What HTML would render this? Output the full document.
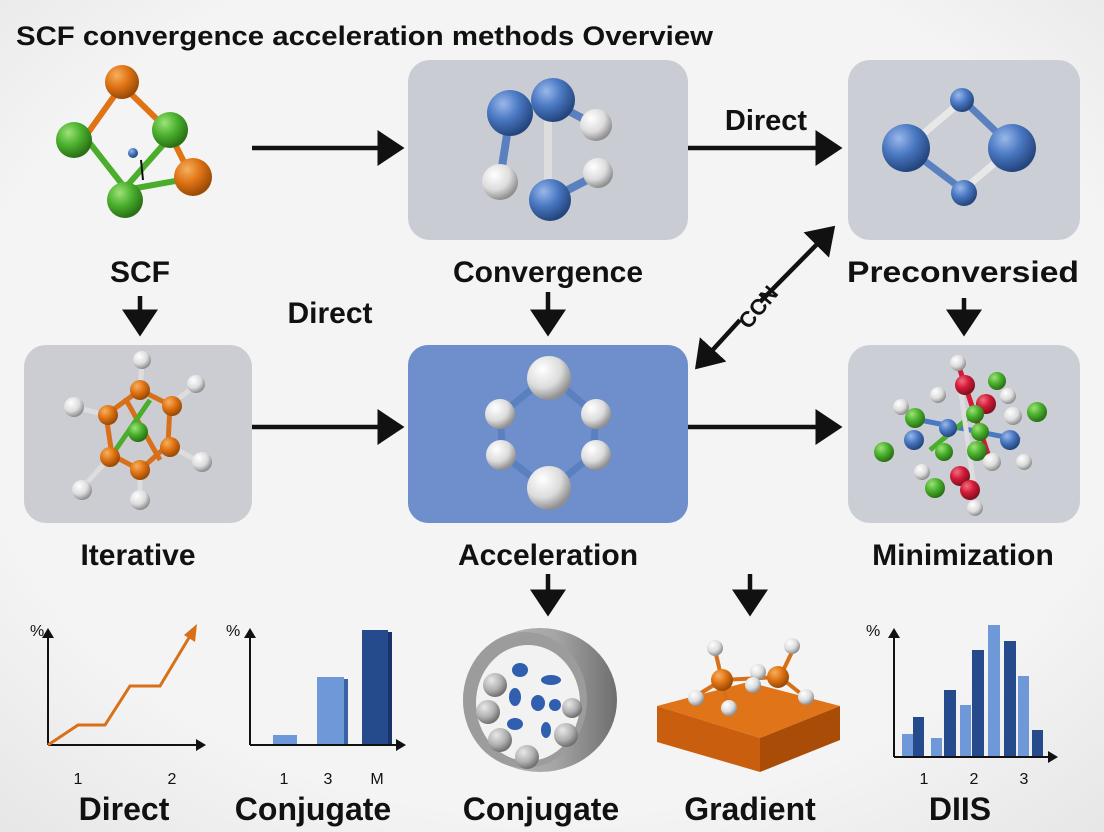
<!DOCTYPE html>
<html><head><meta charset="utf-8"><style>
html,body{margin:0;padding:0;background:#f3f3f3;}
svg{display:block}
text{font-family:"Liberation Sans",sans-serif;font-weight:bold;fill:#111}
text.n{font-weight:normal}
</style></head><body>
<svg width="1104" height="832" viewBox="0 0 1104 832" xmlns="http://www.w3.org/2000/svg">
<defs>
<radialGradient id="bg" cx="50%" cy="45%" r="75%"><stop offset="0.7" stop-color="#f4f4f4"/><stop offset="1" stop-color="#e6e6e6"/></radialGradient>
<radialGradient id="o" cx="35%" cy="30%" r="70%"><stop offset="0" stop-color="#f6b060"/><stop offset="0.5" stop-color="#e07415"/><stop offset="1" stop-color="#9a4a05"/></radialGradient>
<radialGradient id="g" cx="35%" cy="30%" r="70%"><stop offset="0" stop-color="#9ee27a"/><stop offset="0.5" stop-color="#4bb22e"/><stop offset="1" stop-color="#2a7016"/></radialGradient>
<radialGradient id="b" cx="35%" cy="30%" r="70%"><stop offset="0" stop-color="#9ab8ea"/><stop offset="0.5" stop-color="#4a78c2"/><stop offset="1" stop-color="#24467e"/></radialGradient>
<radialGradient id="w" cx="35%" cy="30%" r="70%"><stop offset="0" stop-color="#ffffff"/><stop offset="0.6" stop-color="#dcdcdc"/><stop offset="1" stop-color="#8f8f8f"/></radialGradient>
<radialGradient id="r" cx="35%" cy="30%" r="70%"><stop offset="0" stop-color="#f07080"/><stop offset="0.5" stop-color="#d21a38"/><stop offset="1" stop-color="#80101f"/></radialGradient>
<radialGradient id="gr" cx="35%" cy="30%" r="70%"><stop offset="0" stop-color="#e8e8e8"/><stop offset="0.6" stop-color="#b0b0b0"/><stop offset="1" stop-color="#707070"/></radialGradient>
<linearGradient id="cyl" x1="0" x2="1"><stop offset="0" stop-color="#c0c0c0"/><stop offset="0.6" stop-color="#a5a5a5"/><stop offset="1" stop-color="#6e6e6e"/></linearGradient>
<marker id="ah" markerWidth="8" markerHeight="8" refX="5" refY="4" orient="auto" markerUnits="strokeWidth"><path d="M0,0 L6,4 L0,8 Z" fill="#111"/></marker>
<marker id="ahs" markerWidth="6" markerHeight="6" refX="4" refY="3" orient="auto" markerUnits="strokeWidth"><path d="M0,0 L5,3 L0,6 Z" fill="#111"/></marker>
</defs>
<rect width="1104" height="832" fill="url(#bg)"/>

<text x="16" y="45" font-size="27" textLength="697" lengthAdjust="spacingAndGlyphs">SCF convergence  acceleration methods Overview</text>

<rect x="408" y="60" width="280" height="180" rx="22" fill="#c9ccd3"/>
<rect x="848" y="60" width="232" height="180" rx="22" fill="#cbced5"/>
<rect x="24" y="345" width="228" height="178" rx="22" fill="#cbcdd2"/>
<rect x="408" y="345" width="280" height="178" rx="20" fill="#6e8fcb"/>
<rect x="848" y="345" width="232" height="178" rx="22" fill="#cbced5"/>

<g stroke="#111" stroke-width="4.5" fill="none">
<line x1="252" y1="148" x2="400" y2="148" marker-end="url(#ah)"/>
<line x1="688" y1="148" x2="838" y2="148" marker-end="url(#ah)"/>
<line x1="252" y1="427" x2="400" y2="427" marker-end="url(#ah)"/>
<line x1="688" y1="427" x2="838" y2="427" marker-end="url(#ah)"/>
<line x1="140" y1="296" x2="140" y2="332" marker-end="url(#ah)"/>
<line x1="548" y1="292" x2="548" y2="332" marker-end="url(#ah)"/>
<line x1="964" y1="298" x2="964" y2="332" marker-end="url(#ah)"/>
<line x1="548" y1="574" x2="548" y2="612" marker-end="url(#ah)"/>
<line x1="750" y1="574" x2="750" y2="612" marker-end="url(#ah)"/>
<line x1="760" y1="302" x2="832" y2="229" marker-end="url(#ah)"/>
<line x1="740" y1="320" x2="698" y2="366" marker-end="url(#ah)"/>
</g>
<text x="766" y="130" font-size="29" text-anchor="middle">Direct</text>
<text x="0" y="0" font-size="22" text-anchor="middle" transform="translate(764,312) rotate(-50)">CCN</text>

<g font-size="30" text-anchor="middle">
<text x="140" y="282">SCF</text>
<text x="548" y="282">Convergence</text>
<text x="963" y="282" textLength="232" lengthAdjust="spacingAndGlyphs">Preconversied</text>
<text x="330" y="323">Direct</text>
<text x="138" y="565">Iterative</text>
<text x="548" y="565">Acceleration</text>
<text x="963" y="565">Minimization</text>
</g>
<g font-size="32" text-anchor="middle">
<text x="124" y="820">Direct</text>
<text x="313" y="820">Conjugate</text>
<text x="541" y="820">Conjugate</text>
<text x="750" y="820">Gradient</text>
<text x="960" y="820">DIIS</text>
</g>

<!-- SCF molecule -->
<g stroke-width="6" stroke-linecap="round">
<line x1="125" y1="188" x2="178" y2="128" stroke="#4aae2c"/>
<line x1="125" y1="188" x2="85" y2="137" stroke="#4aae2c"/>
<line x1="85" y1="137" x2="122" y2="85" stroke="#e07415"/>
<line x1="122" y1="85" x2="168" y2="130" stroke="#e07415"/>
<line x1="168" y1="130" x2="192" y2="178" stroke="#e07415"/>
<line x1="192" y1="178" x2="125" y2="190" stroke="#4aae2c"/>
</g>
<circle cx="122" cy="82" r="17" fill="url(#o)"/>
<circle cx="74" cy="140" r="18" fill="url(#g)"/>
<circle cx="170" cy="130" r="18" fill="url(#g)"/>
<circle cx="193" cy="177" r="19" fill="url(#o)"/>
<circle cx="125" cy="200" r="18" fill="url(#g)"/>
<circle cx="133" cy="153" r="5" fill="url(#b)"/>
<line x1="141" y1="160" x2="143" y2="180" stroke="#111" stroke-width="2"/>

<!-- Convergence molecule -->
<g stroke-width="8">
<line x1="510" y1="115" x2="500" y2="180" stroke="#5a80c0"/>
<line x1="548" y1="100" x2="548" y2="190" stroke="#ddd"/>
<line x1="548" y1="100" x2="595" y2="125" stroke="#5a80c0"/>
<line x1="548" y1="200" x2="597" y2="175" stroke="#5a80c0"/>
</g>
<circle cx="596" cy="125" r="16" fill="url(#w)"/>
<circle cx="510" cy="113" r="23" fill="url(#b)"/>
<circle cx="553" cy="100" r="22" fill="url(#b)"/>
<circle cx="500" cy="182" r="18" fill="url(#w)"/>
<circle cx="598" cy="173" r="15" fill="url(#w)"/>
<circle cx="550" cy="200" r="21" fill="url(#b)"/>

<!-- Preconditioned molecule -->
<g stroke-width="7">
<line x1="963" y1="100" x2="910" y2="145" stroke="#e8e8e8"/>
<line x1="963" y1="100" x2="1010" y2="145" stroke="#5a80c0"/>
<line x1="910" y1="150" x2="963" y2="190" stroke="#5a80c0"/>
<line x1="1010" y1="150" x2="963" y2="190" stroke="#e8e8e8"/>
</g>
<circle cx="962" cy="100" r="12" fill="url(#b)"/>
<circle cx="906" cy="148" r="24" fill="url(#b)"/>
<circle cx="1012" cy="148" r="24" fill="url(#b)"/>
<circle cx="964" cy="193" r="13" fill="url(#b)"/>

<!-- Iterative molecule -->
<g stroke="#d8701a" stroke-width="5">
<polyline points="140,390 170,405 168,445 140,470 112,455 106,415 140,390" fill="none"/>
<line x1="125" y1="398" x2="160" y2="460"/>
<line x1="150" y1="400" x2="112" y2="455" stroke="#4aae2c"/>
<line x1="140" y1="390" x2="142" y2="362" stroke="#ddd"/>
<line x1="170" y1="405" x2="196" y2="385" stroke="#ddd"/>
<line x1="168" y1="445" x2="200" y2="462" stroke="#ddd"/>
<line x1="112" y1="455" x2="82" y2="488" stroke="#ddd"/>
<line x1="106" y1="415" x2="75" y2="407" stroke="#ddd"/>
<line x1="140" y1="470" x2="140" y2="495" stroke="#ddd"/>
</g>
<circle cx="142" cy="360" r="9" fill="url(#w)"/>
<circle cx="196" cy="384" r="9" fill="url(#w)"/>
<circle cx="74" cy="407" r="10" fill="url(#w)"/>
<circle cx="202" cy="462" r="10" fill="url(#w)"/>
<circle cx="82" cy="490" r="10" fill="url(#w)"/>
<circle cx="140" cy="500" r="10" fill="url(#w)"/>
<circle cx="140" cy="390" r="10" fill="url(#o)"/>
<circle cx="172" cy="406" r="10" fill="url(#o)"/>
<circle cx="108" cy="415" r="10" fill="url(#o)"/>
<circle cx="170" cy="447" r="10" fill="url(#o)"/>
<circle cx="110" cy="457" r="10" fill="url(#o)"/>
<circle cx="140" cy="470" r="10" fill="url(#o)"/>
<circle cx="138" cy="432" r="10" fill="url(#g)"/>

<!-- Acceleration molecule -->
<g stroke="#5a80c0" stroke-width="7" fill="none">
<polygon points="549,375 596,415 593,455 549,490 503,455 500,415"/>
</g>
<circle cx="549" cy="378" r="22" fill="url(#w)"/>
<circle cx="596" cy="414" r="15" fill="url(#w)"/>
<circle cx="500" cy="414" r="15" fill="url(#w)"/>
<circle cx="596" cy="455" r="15" fill="url(#w)"/>
<circle cx="501" cy="455" r="15" fill="url(#w)"/>
<circle cx="549" cy="488" r="22" fill="url(#w)"/>

<!-- Minimization molecule -->
<g stroke-width="5">
<line x1="960" y1="370" x2="990" y2="460" stroke="#d21a38"/>
<line x1="920" y1="420" x2="1020" y2="440" stroke="#4a78c2"/>
<line x1="930" y1="450" x2="990" y2="400" stroke="#4aae2c"/>
<line x1="960" y1="385" x2="975" y2="495" stroke="#ddd"/>
</g>
<circle cx="958" cy="363" r="8" fill="url(#w)"/>
<circle cx="965" cy="385" r="10" fill="url(#r)"/>
<circle cx="997" cy="381" r="9" fill="url(#g)"/>
<circle cx="1008" cy="396" r="8" fill="url(#w)"/>
<circle cx="938" cy="395" r="8" fill="url(#w)"/>
<circle cx="901" cy="407" r="8" fill="url(#w)"/>
<circle cx="986" cy="404" r="10" fill="url(#r)"/>
<circle cx="1037" cy="412" r="10" fill="url(#g)"/>
<circle cx="915" cy="418" r="10" fill="url(#g)"/>
<circle cx="975" cy="414" r="9" fill="url(#g)"/>
<circle cx="1013" cy="416" r="9" fill="url(#w)"/>
<circle cx="948" cy="428" r="9" fill="url(#b)"/>
<circle cx="980" cy="432" r="9" fill="url(#g)"/>
<circle cx="1010" cy="440" r="10" fill="url(#b)"/>
<circle cx="914" cy="440" r="10" fill="url(#b)"/>
<circle cx="884" cy="452" r="10" fill="url(#g)"/>
<circle cx="944" cy="452" r="9" fill="url(#g)"/>
<circle cx="977" cy="451" r="10" fill="url(#g)"/>
<circle cx="992" cy="462" r="9" fill="url(#w)"/>
<circle cx="1024" cy="462" r="8" fill="url(#w)"/>
<circle cx="922" cy="472" r="8" fill="url(#w)"/>
<circle cx="960" cy="476" r="10" fill="url(#r)"/>
<circle cx="935" cy="488" r="10" fill="url(#g)"/>
<circle cx="970" cy="490" r="10" fill="url(#r)"/>
<circle cx="975" cy="508" r="8" fill="url(#w)"/>

<!-- Direct chart -->
<g stroke="#111" stroke-width="2">
<line x1="48" y1="745" x2="48" y2="630" marker-end="url(#ahs)"/>
<line x1="48" y1="745" x2="204" y2="745" marker-end="url(#ahs)"/>
</g>
<polyline points="48,745 78,725 105,725 130,686 160,686 190,636" fill="none" stroke="#d8701a" stroke-width="3"/>
<path d="M184,635 L197,624 L195,642 Z" fill="#d8701a"/>
<g font-size="16">
<text class="n" x="30" y="636">%</text>
<text class="n" x="78" y="784" text-anchor="middle">1</text>
<text class="n" x="172" y="784" text-anchor="middle">2</text>
</g>

<!-- Conjugate bar chart -->
<rect x="273" y="735" width="24" height="10" fill="#6e98d8"/>
<rect x="317" y="677" width="27" height="68" fill="#6e98d8"/>
<rect x="344" y="679" width="4" height="66" fill="#3c62a6"/>
<rect x="362" y="630" width="26" height="115" fill="#264b8c"/>
<rect x="388" y="632" width="4" height="113" fill="#17336a"/>
<g stroke="#111" stroke-width="2">
<line x1="250" y1="745" x2="250" y2="630" marker-end="url(#ahs)"/>
<line x1="250" y1="745" x2="404" y2="745" marker-end="url(#ahs)"/>
</g>
<g font-size="16">
<text class="n" x="226" y="636">%</text>
<text class="n" x="284" y="784" text-anchor="middle">1</text>
<text class="n" x="328" y="784" text-anchor="middle">3</text>
<text class="n" x="377" y="784" text-anchor="middle">M</text>
</g>

<!-- Cylinder -->
<ellipse cx="540" cy="700" rx="77" ry="72" fill="url(#cyl)"/>
<ellipse cx="525" cy="700" rx="62" ry="68" fill="#9c9c9c"/>
<ellipse cx="528" cy="703" rx="52" ry="58" fill="#f2f2f2"/>
<circle cx="495" cy="685" r="12" fill="url(#gr)"/>
<circle cx="488" cy="712" r="12" fill="url(#gr)"/>
<circle cx="500" cy="740" r="12" fill="url(#gr)"/>
<circle cx="527" cy="757" r="12" fill="url(#gr)"/>
<circle cx="566" cy="735" r="12" fill="url(#gr)"/>
<circle cx="572" cy="708" r="10" fill="url(#gr)"/>
<g fill="#2f5fae">
<ellipse cx="520" cy="670" rx="8" ry="7"/><ellipse cx="551" cy="680" rx="10" ry="5"/>
<ellipse cx="515" cy="697" rx="6" ry="9"/><ellipse cx="538" cy="703" rx="7" ry="8"/>
<ellipse cx="555" cy="705" rx="6" ry="6"/><ellipse cx="515" cy="724" rx="8" ry="6"/>
<ellipse cx="546" cy="730" rx="5" ry="8"/>
</g>

<!-- Gradient slab -->
<polygon points="657,706 748,682 840,706 760,738" fill="#e07418"/>
<polygon points="657,706 760,738 760,772 657,742" fill="#c95f0e"/>
<polygon points="760,738 840,706 840,740 760,772" fill="#a94c08"/>
<g stroke="#d8701a" stroke-width="4">
<line x1="722" y1="680" x2="715" y2="650"/><line x1="722" y1="680" x2="696" y2="696"/>
<line x1="722" y1="680" x2="728" y2="706"/><line x1="722" y1="680" x2="780" y2="677"/>
<line x1="780" y1="677" x2="792" y2="652"/><line x1="780" y1="677" x2="805" y2="697"/>
</g>
<circle cx="715" cy="648" r="8" fill="url(#w)"/>
<circle cx="792" cy="646" r="8" fill="url(#w)"/>
<circle cx="758" cy="672" r="8" fill="url(#w)"/>
<circle cx="722" cy="680" r="11" fill="url(#o)"/>
<circle cx="778" cy="677" r="11" fill="url(#o)"/>
<circle cx="753" cy="685" r="8" fill="url(#w)"/>
<circle cx="696" cy="698" r="8" fill="url(#w)"/>
<circle cx="729" cy="708" r="8" fill="url(#w)"/>
<circle cx="806" cy="697" r="8" fill="url(#w)"/>

<!-- DIIS chart -->
<g>
<rect x="902" y="734" width="11" height="23" fill="#6e98d8"/>
<rect x="913" y="717" width="11" height="40" fill="#264b8c"/>
<rect x="931" y="738" width="11" height="19" fill="#6e98d8"/>
<rect x="944" y="690" width="12" height="67" fill="#264b8c"/>
<rect x="960" y="705" width="11" height="52" fill="#6e98d8"/>
<rect x="972" y="650" width="12" height="107" fill="#264b8c"/>
<rect x="988" y="625" width="12" height="132" fill="#6e98d8"/>
<rect x="1004" y="641" width="12" height="116" fill="#264b8c"/>
<rect x="1018" y="676" width="11" height="81" fill="#6e98d8"/>
<rect x="1032" y="730" width="11" height="27" fill="#264b8c"/>
</g>
<g stroke="#111" stroke-width="2">
<line x1="894" y1="757" x2="894" y2="630" marker-end="url(#ahs)"/>
<line x1="894" y1="757" x2="1056" y2="757" marker-end="url(#ahs)"/>
</g>
<g font-size="16">
<text class="n" x="866" y="636">%</text>
<text class="n" x="924" y="784" text-anchor="middle">1</text>
<text class="n" x="974" y="784" text-anchor="middle">2</text>
<text class="n" x="1024" y="784" text-anchor="middle">3</text>
</g>
</svg>
</body></html>
